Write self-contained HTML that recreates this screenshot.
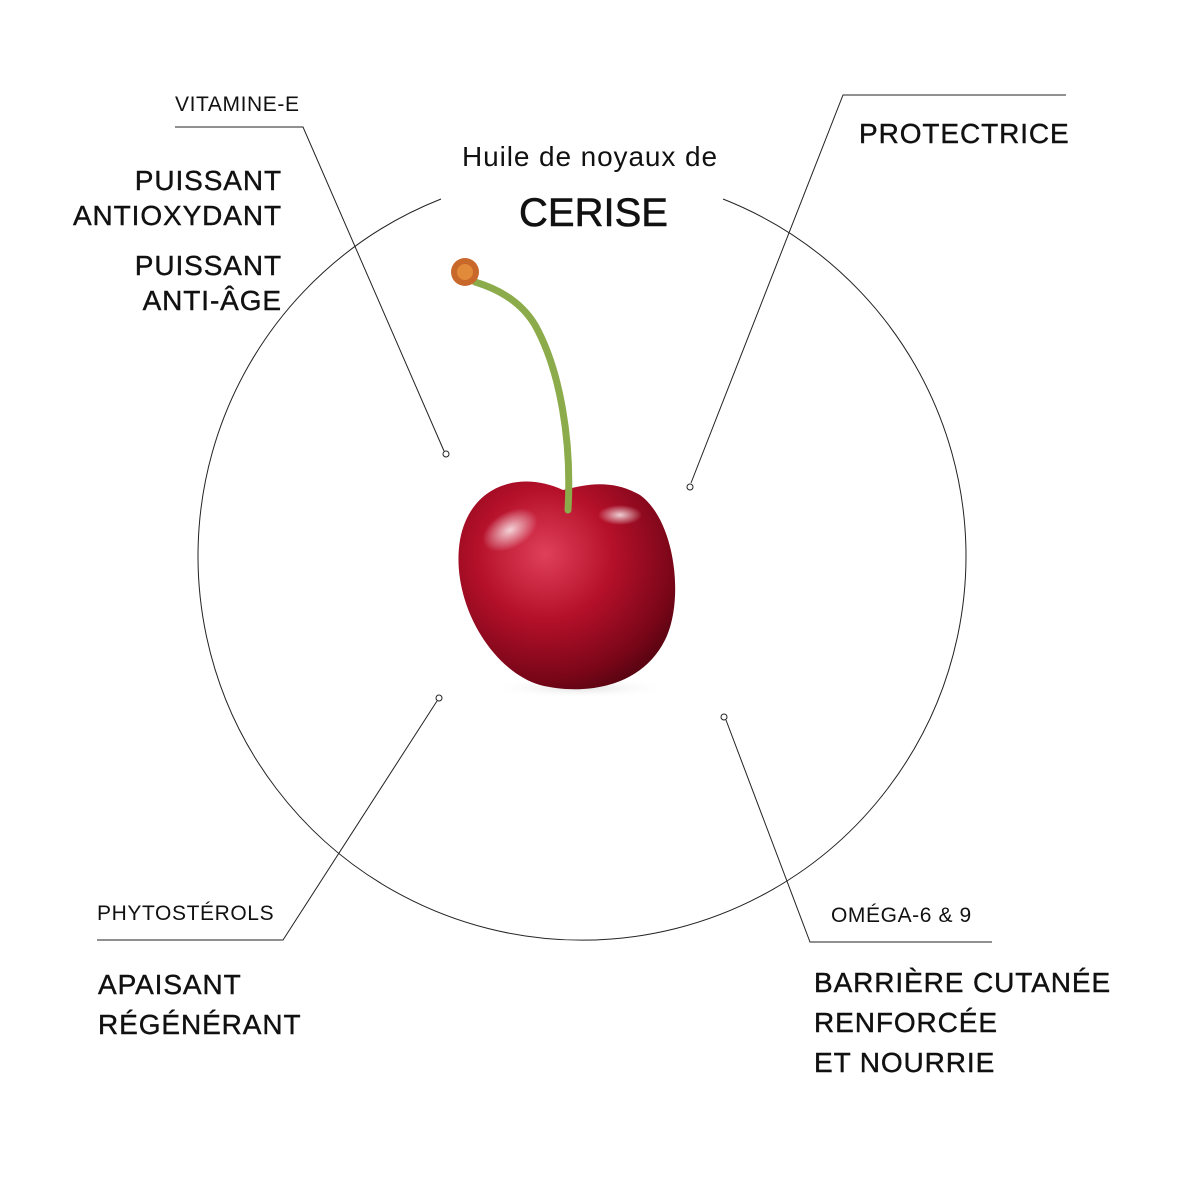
<!DOCTYPE html>
<html><head><meta charset="utf-8"><style>
html,body{margin:0;padding:0;background:#fff}
#w{position:relative;width:1181px;height:1181px;overflow:hidden;font-family:"Liberation Sans",sans-serif;color:#111}
.t{position:absolute;white-space:nowrap;line-height:1}
.b{font-size:28px;letter-spacing:0.9px;-webkit-text-stroke:0.4px #111}
.s{font-size:21px;letter-spacing:0.6px}
</style></head><body><div id="w">
<svg width="1181" height="1181" style="position:absolute;left:0;top:0">
<defs>
<radialGradient id="c" cx="0.4" cy="0.35" r="0.7">
<stop offset="0" stop-color="#e0405a"/>
<stop offset="0.45" stop-color="#b5102a"/>
<stop offset="0.85" stop-color="#7a0618"/>
<stop offset="1" stop-color="#5a0412"/>
</radialGradient>
<radialGradient id="h" cx="0.5" cy="0.5" r="0.5">
<stop offset="0" stop-color="#fff" stop-opacity="0.8"/>
<stop offset="1" stop-color="#fff" stop-opacity="0"/>
</radialGradient>
<radialGradient id="sh" cx="0.5" cy="0.5" r="0.5">
<stop offset="0" stop-color="#ccc" stop-opacity="0.6"/>
<stop offset="1" stop-color="#fff" stop-opacity="0"/>
</radialGradient>
</defs>
<path d="M441,199 A384,384 0 1 0 723,199" fill="none" stroke="#222" stroke-width="1"/>
<g fill="none" stroke="#222" stroke-width="1">
<polyline points="175,127 303,127 444,451"/>
<polyline points="1066,95 843,95 691,483"/>
<polyline points="97,940 283,940 437,701"/>
<polyline points="992,942 810,942 726,720"/>
<circle cx="446" cy="454" r="3" fill="#fff"/>
<circle cx="690" cy="487" r="3" fill="#fff"/>
<circle cx="439" cy="698" r="3" fill="#fff"/>
<circle cx="724" cy="717" r="3" fill="#fff"/>
</g>
<ellipse cx="580" cy="688" rx="90" ry="10" fill="url(#sh)"/>
<path d="M563,490 C520,470 470,485 460,540 C450,600 490,670 540,685 C580,695 640,690 665,640 C685,600 675,520 640,495 C610,478 585,485 563,490 Z" fill="url(#c)"/>
<ellipse cx="510" cy="530" rx="30" ry="18" fill="url(#h)" transform="rotate(-30 510 530)"/>
<ellipse cx="620" cy="515" rx="22" ry="10" fill="url(#h)"/>
<path d="M568,510 C572,440 560,370 535,325 C520,300 495,288 475,282" fill="none" stroke="#8cab4a" stroke-width="7" stroke-linecap="round"/>
<circle cx="465" cy="272" r="14" fill="#c8682a"/>
<circle cx="465" cy="272" r="8" fill="#e08a3a"/>
</svg>
<div class="t s" style="left:175px;top:94px">VITAMINE-E</div>
<div class="t b" style="right:899px;top:163px;text-align:right;line-height:35px">PUISSANT<br>ANTIOXYDANT</div>
<div class="t b" style="right:899px;top:248px;text-align:right;line-height:35px">PUISSANT<br>ANTI-ÂGE</div>
<div class="t" style="left:462px;top:143px;font-size:28px;letter-spacing:0.9px">Huile de noyaux de</div>
<div class="t" style="left:519px;top:193px;font-size:40px;-webkit-text-stroke:0.6px #111">CERISE</div>
<div class="t b" style="left:859px;top:120px">PROTECTRICE</div>
<div class="t s" style="left:97px;top:903px">PHYTOSTÉROLS</div>
<div class="t b" style="left:98px;top:965px;line-height:40px">APAISANT<br>RÉGÉNÉRANT</div>
<div class="t s" style="left:831px;top:905px">OMÉGA-6 &amp; 9</div>
<div class="t b" style="left:814px;top:963px;line-height:40px">BARRIÈRE CUTANÉE<br>RENFORCÉE<br>ET NOURRIE</div>
</div></body></html>
